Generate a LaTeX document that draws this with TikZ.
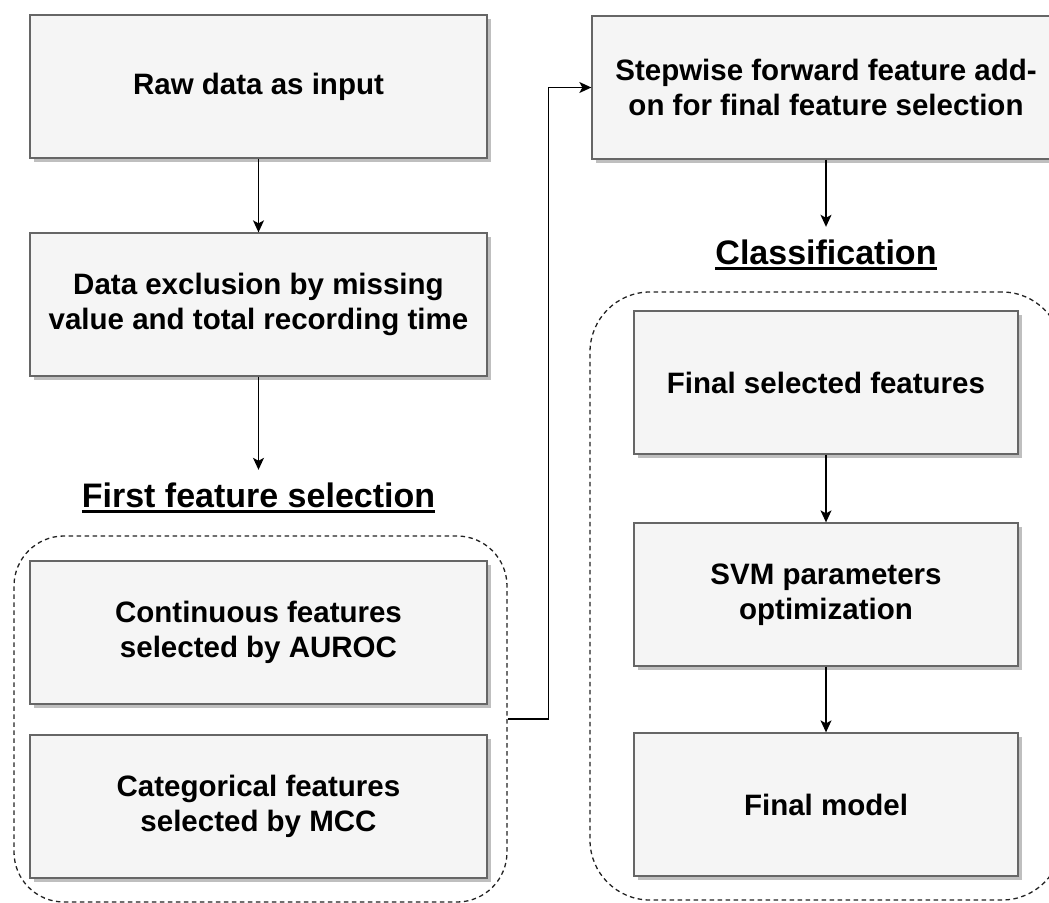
\documentclass[tikz,border=0pt]{standalone}
\usepackage{fontspec}
\setmainfont{Liberation Sans}
\usetikzlibrary{arrows.meta,shadows}
\definecolor{boxfill}{HTML}{F5F5F5}
\definecolor{boxline}{HTML}{666666}
\definecolor{boxshade}{HTML}{BFBFBF}
\definecolor{grpline}{HTML}{222222}
% bold heading with a thick underline
\newcommand\headline[1]{\setbox0\hbox{#1}\rlap{\rule[-5.5pt]{\wd0}{2.8pt}}\box0}
\begin{document}
\begin{tikzpicture}[x=1pt,y=-1pt,
  stepbox/.style={draw=boxline, fill=boxfill, line width=1.3pt,
    minimum width=457pt, minimum height=143pt, inner sep=0pt, align=center,
    font=\fontsize{29.5}{35}\selectfont\bfseries,
    drop shadow={shadow xshift=4pt, shadow yshift=-4pt, fill=boxshade, opacity=1}},
  group/.style={draw=grpline, line width=1.3pt, dash pattern=on 4.5pt off 3.5pt},
  heading/.style={font=\fontsize{34}{40}\selectfont\bfseries, inner xsep=0pt,
    inner ysep=12pt, text height=25pt, text depth=6pt, anchor=base},
  flow/.style={line width=1.3pt, -{Stealth[length=12pt,width=11pt,inset=3pt]}}]
\useasboundingbox (0,0) rectangle (1049,902);
\clip (0,0) rectangle (1049,902);

% dashed groups
\node[group, minimum width=493pt, minimum height=366pt, rounded corners=50pt] (g1) at (260.5,719) {};
\node[group, minimum width=472pt, minimum height=608pt, rounded corners=60pt] (g2) at (826,596) {};

% left column
\node[stepbox] (raw) at (258.5,86.5) {Raw data as input};
\node[stepbox] (excl) at (258.5,304.5) {Data exclusion by missing\\value and total recording time};
\node[heading] (first) at (258.5,507) {\headline{First feature selection}};
\node[stepbox] (cont) at (258.5,632.5) {Continuous features\\selected by AUROC};
\node[stepbox] (cat) at (258.5,806.5) {Categorical features\\selected by MCC};

% right column
\node[stepbox, minimum width=468pt] (sw) at (826,87.5) {Stepwise forward feature add-\\on for final feature selection};
\node[heading] (cls) at (826,264) {\headline{Classification}};
\node[stepbox, minimum width=384pt] (fsel) at (826,382.5) {Final selected features};
\node[stepbox, minimum width=384pt] (svm) at (826,594.5) {SVM parameters\\optimization};
\node[stepbox, minimum width=384pt] (fm) at (826,804.5) {Final model};

% connectors
\draw[flow] (raw.south) -- (excl.north);
\draw[flow] (excl.south) -- (first.north);
\draw[flow] (g1.east) -- ++(41,0) |- (sw.west);
\draw[flow] (sw.south) -- (cls.north);
\draw[flow] (fsel.south) -- (svm.north);
\draw[flow] (svm.south) -- (fm.north);
\end{tikzpicture}
\end{document}
